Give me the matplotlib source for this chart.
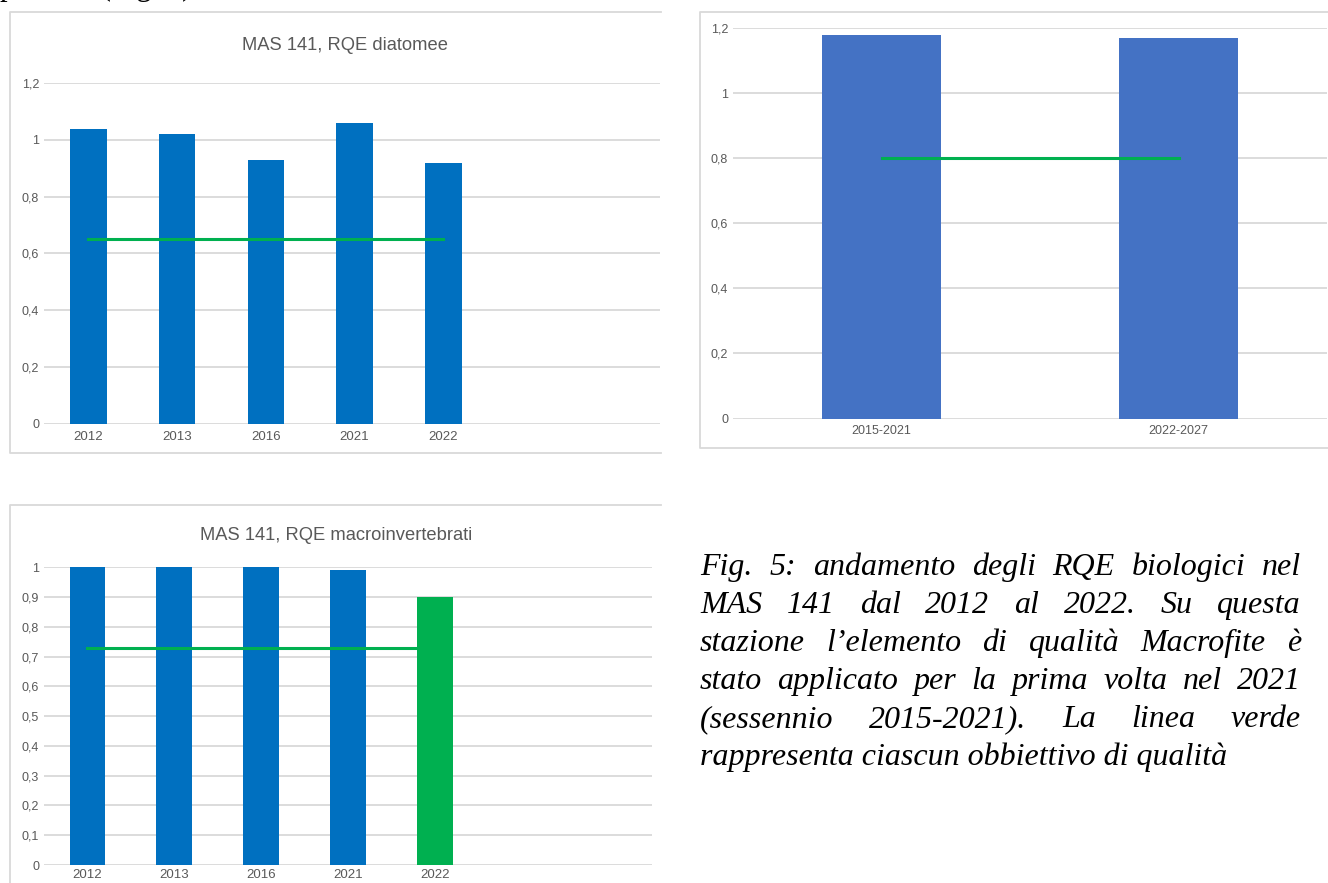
import matplotlib
matplotlib.use("Agg")
import matplotlib.pyplot as plt
from matplotlib import font_manager
from matplotlib.lines import Line2D

W, H = 1328, 883

# --- data -------------------------------------------------------------------
years = ["2012", "2013", "2016", "2021", "2022"]
diatomee = [1.04, 1.02, 0.93, 1.06, 0.92]
diatomee_obj = 0.65

periods = ["2015-2021", "2022-2027"]
macrofite = [1.18, 1.17]
macrofite_obj = 0.80

macroinv = [1.00, 1.00, 1.00, 0.99, 0.90]
macroinv_obj = 0.73

caption_lines = [
    "Fig. 5: andamento degli RQE biologici nel",
    "MAS 141 dal 2012 al 2022. Su questa",
    "stazione l\u2019elemento di qualità Macrofite è",
    "stato applicato per la prima volta nel 2021",
    "(sessennio 2015-2021). La linea verde",
    "rappresenta ciascun obbiettivo di qualità",
]
header_text = "periodo (Fig. 5)"

# --- style ------------------------------------------------------------------
BLUE = "#0070C0"
BLUE2 = "#4472C4"
GREEN = "#00B050"
GRID = "#D9D9D9"
TXT = "#595959"

names = {f.name for f in font_manager.fontManager.ttflist}
SANS = "Liberation Sans Narrow" if "Liberation Sans Narrow" in names else "Liberation Sans"
SERIF = "Liberation Serif"


def px_axes(fig, left, right, top, bottom):
    return fig.add_axes([left / W, 1 - bottom / H, (right - left) / W, (bottom - top) / H])


def frame(fig, left, top, right, bottom):
    """Chart-area outline; the right side runs off the cropped picture."""
    xs = [right / W, left / W, left / W, right / W]
    ys = [1 - top / H, 1 - top / H, 1 - bottom / H, 1 - bottom / H]
    fig.add_artist(Line2D(xs, ys, transform=fig.transFigure, color=GRID, lw=1.3))


def style(ax, yticks, ylabels, xpad, ypad, xsize=9.5, ysize=9):
    for s in ax.spines.values():
        s.set_visible(False)
    ax.set_yticks(yticks)
    ax.set_yticklabels(ylabels)
    ax.yaxis.grid(True, color=GRID, lw=1.3)
    ax.set_axisbelow(True)
    ax.tick_params(axis="x", length=0, pad=xpad, labelsize=xsize, labelcolor=TXT)
    ax.tick_params(axis="y", length=0, pad=ypad, labelsize=ysize, labelcolor=TXT)
    for lab in ax.get_xticklabels() + ax.get_yticklabels():
        lab.set_family(SANS)


def comma(v):
    return f"{v:g}".replace(".", ",")


fig = plt.figure(figsize=(W / 100, H / 100), dpi=100)

# chart 1: diatomee (7 category slots, the last two empty)
frame(fig, 10, 12, 661, 453)
ax1 = px_axes(fig, 44, 660, 83.3, 423.5)
x = range(len(years))
ax1.bar(x, diatomee, 0.41, color=BLUE, zorder=2)
ax1.plot(x, [diatomee_obj] * len(years), color=GREEN, lw=2.2, zorder=3)
ax1.set_xlim(-0.5, -0.5 + (660 - 44) / 88.75)
ax1.set_ylim(0, 1.2)
ticks = [0, 0.2, 0.4, 0.6, 0.8, 1.0, 1.2]
ax1.set_xticks(list(x))
ax1.set_xticklabels(years)
style(ax1, ticks, [comma(t) for t in ticks], 5.5, 3.5)
fig.text(345 / W, 1 - 46 / H, "MAS 141, RQE diatomee", ha="center", va="center",
         family=SANS, fontsize=13.2, color=TXT)

# chart 2: macrofite
frame(fig, 700, 12, 1340, 448)
ax2 = px_axes(fig, 733, 1327, 28, 418.5)
x = range(len(periods))
ax2.bar(x, macrofite, 0.40, color=BLUE2, zorder=2)
ax2.plot(x, [macrofite_obj] * len(periods), color=GREEN, lw=2.2, zorder=3)
ax2.set_xlim(-0.5, 1.5)
ax2.set_ylim(0, 1.2)
ax2.set_xticks(list(x))
ax2.set_xticklabels(periods)
style(ax2, ticks, [comma(t) for t in ticks], 4.5, 3.5, xsize=9, ysize=9)

# chart 3: macroinvertebrati (2022 bar highlighted in green)
frame(fig, 9.5, 505, 661, 900)
ax3 = px_axes(fig, 44, 652, 567.3, 865)
x = list(range(len(years)))
ax3.bar(x[:-1], macroinv[:-1], 0.41, color=BLUE, zorder=2)
ax3.plot(x, [macroinv_obj] * len(years), color=GREEN, lw=2.2, zorder=3)
ax3.bar(x[-1:], macroinv[-1:], 0.41, color=GREEN, zorder=4)
ax3.set_xlim(-0.5, 6.5)
ax3.set_ylim(0, 1.0)
ticks3 = [i / 10 for i in range(11)]
ax3.set_xticks(x)
ax3.set_xticklabels(years)
style(ax3, ticks3, [comma(t) for t in ticks3], 3, 3.5)
fig.text(336 / W, 1 - 535 / H, "MAS 141, RQE macroinvertebrati", ha="center", va="center",
         family=SANS, fontsize=13.2, color=TXT)

# running text of the page, cut at the top edge
fig.text(0, 1 + 5 / H, header_text, ha="left", va="baseline", family=SERIF,
         fontsize=22, color="black")

# justified italic caption
renderer = fig.canvas.get_renderer()
left, right = 700, 1301
cap_size = 23
for i, line in enumerate(caption_lines):
    yb = 1 - (575 + 38 * i) / H
    if i == len(caption_lines) - 1:
        fig.text(left / W, yb, line, ha="left", va="baseline", family=SERIF,
                 style="italic", fontsize=cap_size, color="black")
        continue
    words = line.split(" ")
    arts = [fig.text(0, yb, w, ha="left", va="baseline", family=SERIF,
                     style="italic", fontsize=cap_size, color="black") for w in words]
    widths = [a.get_window_extent(renderer).width for a in arts]
    gap = (right - left - sum(widths)) / (len(words) - 1)
    xpos = left
    for a, w in zip(arts, widths):
        a.set_x(xpos / W)
        xpos += w + gap

fig.savefig("out.png", dpi=100)
